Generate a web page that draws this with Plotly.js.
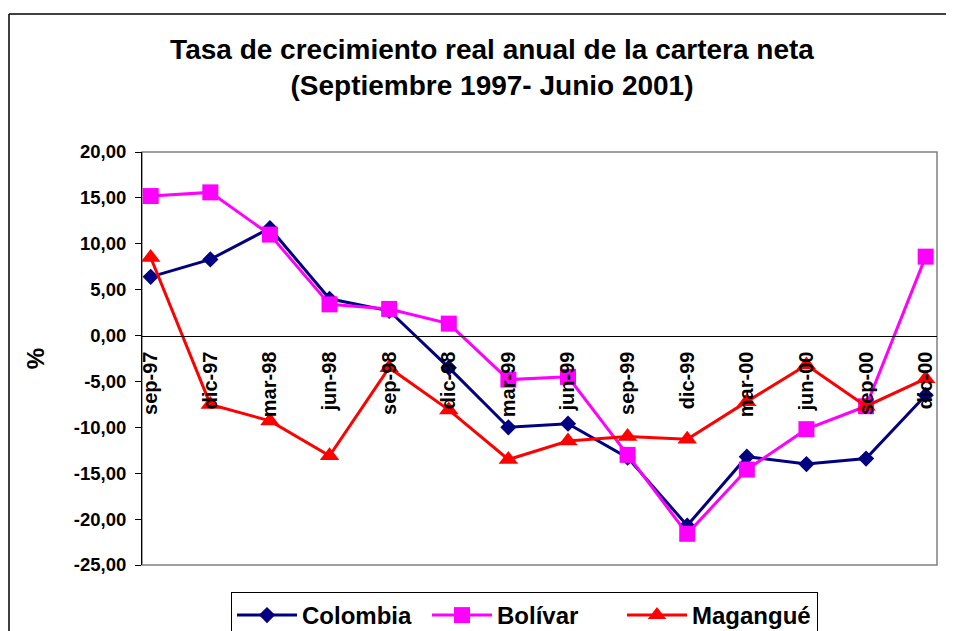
<!DOCTYPE html>
<html>
<head>
<meta charset="utf-8">
<script src="https://cdn.plot.ly/plotly-3.0.1.min.js"></script>
<style>html,body{margin:0;padding:0;background:#fff;}#chart{width:958px;height:631px;}</style>
</head>
<body>
<div id="chart"></div>
<script>
const categories = ['sep-97','dic-97','mar-98','jun-98','sep-98','dic-98','mar-99','jun-99','sep-99','dic-99','mar-00','jun-00','sep-00','dic-00'];
const colombia = [6.4, 8.3, 11.7, 4.0, 2.7, -3.5, -10.0, -9.6, -13.3, -20.7, -13.2, -14.0, -13.4, -6.5];
const bolivar  = [15.2, 15.6, 11.0, 3.4, 2.9, 1.3, -4.8, -4.5, -13.0, -21.6, -14.6, -10.2, -7.7, 8.6];
const magangue = [8.5, -7.5, -9.3, -13.1, -3.5, -8.1, -13.5, -11.5, -11.0, -11.3, -7.2, -3.2, -7.7, -4.7];
const seriesNames = ['Colombia', 'Bolívar', 'Magangué'];
const yTickVals = [20, 15, 10, 5, 0, -5, -10, -15, -20, -25];
const yTickText = ['20,00', '15,00', '10,00', '5,00', '0,00', '-5,00', '-10,00', '-15,00', '-20,00', '-25,00'];
const chartTitle = 'Tasa de crecimiento real anual de la cartera neta<br>(Septiembre 1997- Junio 2001)';
const yTitle = '%';

const FONT = 'Liberation Sans, Arial, sans-serif';
const yMin = -25, yMax = 20;
const xRange = [-0.146, 13.19];
const zeroPos = (0 - yMin) / (yMax - yMin);
const tickOffset = -0.146;

const W = 958, H = 631;
const M = {l: 142, r: W - 937, t: 152, b: H - 565};
const pw = W - M.l - M.r, ph = H - M.t - M.b;
const px = v => (v - M.l) / pw;
const py = v => (H - M.b - v) / ph;

const traces = [
  {x: categories, y: colombia, name: seriesNames[0], type: 'scatter', mode: 'lines+markers',
   line: {color: '#000080', width: 3}, marker: {symbol: 'diamond', size: 12.5, color: '#000080'}},
  {x: categories, y: bolivar, name: seriesNames[1], type: 'scatter', mode: 'lines+markers',
   line: {color: '#FF00FF', width: 3}, marker: {symbol: 'square', size: 16, color: '#FF00FF'}},
  {x: categories, y: magangue, name: seriesNames[2], type: 'scatter', mode: 'lines+markers',
   line: {color: '#FF0000', width: 3}, marker: {symbol: 'triangle-up', size: 17, color: '#FF0000'}}
];

const layout = {
  width: W, height: H,
  margin: {l: M.l, r: M.r, t: M.t, b: M.b, autoexpand: false},
  paper_bgcolor: '#fff', plot_bgcolor: '#fff',
  font: {family: FONT, color: '#000'},
  showlegend: true,
  title: {
    text: chartTitle,
    font: {family: FONT, size: 28, weight: 'bold', color: '#000'},
    xref: 'container', x: 492 / W, xanchor: 'center',
    yref: 'container', y: 1 - 59 / H, yanchor: 'top'
  },
  xaxis: {
    type: 'category', range: xRange,
    anchor: 'free', position: zeroPos,
    showline: true, linecolor: '#000', linewidth: 1,
    ticks: '', showgrid: false, zeroline: false,
    tickangle: -90, ticklabelstandoff: 7,
    tickfont: {family: FONT, size: 20, weight: 'bold', color: '#000'},
    automargin: false, layer: 'above traces'
  },
  xaxis2: {
    type: 'linear', overlaying: 'x', range: xRange,
    anchor: 'free', position: zeroPos,
    tickmode: 'array', tickvals: categories.map((c, i) => i + tickOffset),
    ticks: 'outside', ticklen: 5, tickcolor: '#000', tickwidth: 1,
    showticklabels: false, showline: false, showgrid: false, zeroline: false
  },
  yaxis: {
    range: [yMin, yMax],
    tickmode: 'array', tickvals: yTickVals, ticktext: yTickText,
    ticks: 'outside', ticklen: 6, tickcolor: '#000',
    showline: true, linecolor: '#000', linewidth: 1,
    showgrid: false, zeroline: false,
    ticklabelstandoff: 5,
    tickfont: {family: FONT, size: 18.5, weight: 'bold', color: '#000'},
    title: {text: yTitle, font: {family: FONT, size: 24, weight: 'bold', color: '#000'}, standoff: 22},
    automargin: false
  },
  legend: {
    orientation: 'h', x: px(231), y: py(592), xanchor: 'left', yanchor: 'top',
    font: {family: FONT, size: 24, weight: 'bold', color: '#000'},
    bordercolor: '#000', borderwidth: 1, bgcolor: '#fff',
    itemwidth: 60,
    entrywidth: 120, entrywidthmode: 'pixels'
  },
  shapes: [
    {type: 'rect', xref: 'paper', yref: 'paper', x0: 0, x1: 1, y0: 0, y1: 1,
     line: {color: '#808080', width: 1.5}, layer: 'below'},
    {type: 'line', xref: 'paper', yref: 'paper', x0: px(9), x1: px(946), y0: py(14), y1: py(14),
     line: {color: '#000', width: 1.5}},
    {type: 'line', xref: 'paper', yref: 'paper', x0: px(9), x1: px(9), y0: py(14), y1: py(640),
     line: {color: '#000', width: 1.5}}
  ]
};

Plotly.newPlot('chart', traces, layout, {displayModeBar: false, staticPlot: true});
</script>
</body>
</html>
